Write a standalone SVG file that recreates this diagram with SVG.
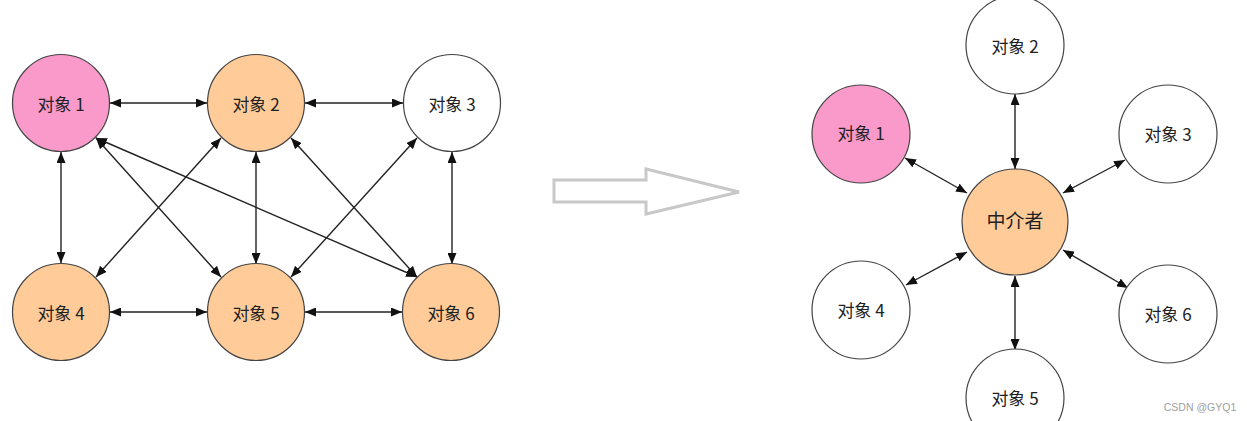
<svg xmlns="http://www.w3.org/2000/svg" width="1247" height="421" viewBox="0 0 1247 421">
<defs>
<marker id="ah" viewBox="0 0 11 9" refX="11" refY="4.5" markerWidth="11" markerHeight="9" markerUnits="userSpaceOnUse" orient="auto-start-reverse">
<path d="M0,0 L11,4.5 L0,9 z" fill="#111"/>
</marker>
<style>
.n{stroke:#444;stroke-width:1.2}
.w{fill:#ffffff}
.p{fill:#fa9acb}
.o{fill:#ffcc99}
.t{font-family:"Noto Sans CJK SC","Noto Sans CJK JP",sans-serif;font-size:17px;fill:#222;text-anchor:middle;dominant-baseline:central}
.tm{font-size:19px}
.c line{stroke:#222;stroke-width:1.4;marker-start:url(#ah);marker-end:url(#ah)}
</style>
</defs>
<rect width="1247" height="421" fill="#ffffff"/>

<g id="connectors" class="c">
<line x1="110" y1="103" x2="207" y2="103"/>
<line x1="305" y1="103" x2="403" y2="103"/>
<line x1="110" y1="312" x2="207" y2="312"/>
<line x1="305" y1="312" x2="402" y2="312"/>
<line x1="61" y1="152" x2="61" y2="263"/>
<line x1="256" y1="152" x2="256" y2="264"/>
<line x1="452" y1="152" x2="452" y2="264"/>
<line x1="96" y1="138" x2="221" y2="277"/>
<line x1="96" y1="138" x2="417" y2="277"/>
<line x1="221" y1="138" x2="96" y2="277"/>
<line x1="291" y1="138" x2="417" y2="277"/>
<line x1="417" y1="138" x2="291" y2="277"/>
<line x1="1015" y1="94" x2="1015" y2="169"/>
<line x1="1015" y1="276" x2="1015" y2="350"/>
<line x1="905" y1="158" x2="967" y2="193"/>
<line x1="1125" y1="160" x2="1063" y2="193"/>
<line x1="906" y1="285" x2="967" y2="252"/>
<line x1="1128" y1="288" x2="1063" y2="250"/>
</g>

<g id="L1"><circle class="n p" cx="61" cy="103" r="48.5"/><text class="t" x="61" y="103">对象 1</text></g>
<g id="L2"><circle class="n o" cx="256" cy="103" r="48.5"/><text class="t" x="256" y="103">对象 2</text></g>
<g id="L3"><circle class="n w" cx="452" cy="103" r="48.5"/><text class="t" x="452" y="103">对象 3</text></g>
<g id="L4"><circle class="n o" cx="61" cy="312" r="48.5"/><text class="t" x="61" y="312">对象 4</text></g>
<g id="L5"><circle class="n o" cx="256" cy="312" r="48.5"/><text class="t" x="256" y="312">对象 5</text></g>
<g id="L6"><circle class="n o" cx="451" cy="312" r="48.5"/><text class="t" x="451" y="312">对象 6</text></g>

<g id="bigArrow"><polygon points="554,180 646,180 646,169 739,192 646,214 646,202 554,202" fill="#ffffff" stroke="#c8c8c8" stroke-width="3"/></g>

<g id="M"><circle class="n o" cx="1015" cy="222" r="53"/><text class="t tm" x="1015" y="219">中介者</text></g>
<g id="R1"><circle class="n p" cx="861" cy="134" r="49"/><text class="t" x="861" y="132">对象 1</text></g>
<g id="R2"><circle class="n w" cx="1015" cy="45" r="49"/><text class="t" x="1015" y="45">对象 2</text></g>
<g id="R3"><circle class="n w" cx="1168" cy="134" r="49"/><text class="t" x="1168" y="133">对象 3</text></g>
<g id="R4"><circle class="n w" cx="861" cy="310" r="49"/><text class="t" x="861" y="309">对象 4</text></g>
<g id="R5"><circle class="n w" cx="1015" cy="398" r="49"/><text class="t" x="1015" y="397">对象 5</text></g>
<g id="R6"><circle class="n w" cx="1168" cy="314" r="49"/><text class="t" x="1168" y="313">对象 6</text></g>

<text x="1200" y="411" font-family="Liberation Sans, sans-serif" font-size="10.5" fill="#a0a0a0" text-anchor="middle">CSDN @GYQ1</text>
</svg>
